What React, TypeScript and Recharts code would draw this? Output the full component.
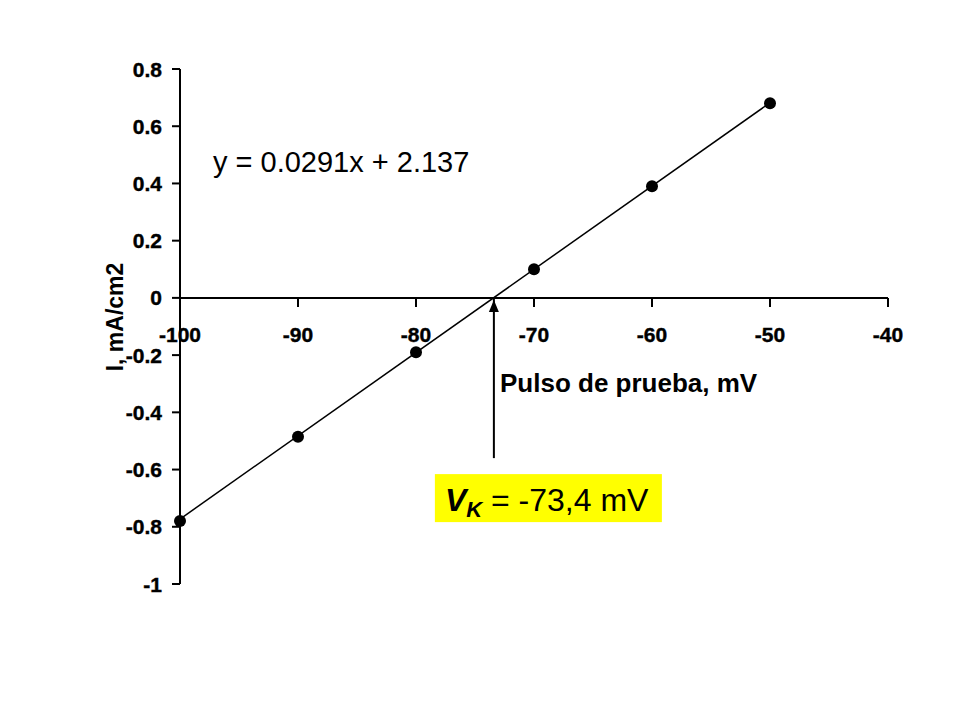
import React from "react";
import {
  ComposedChart,
  XAxis,
  YAxis,
  Scatter,
  ReferenceLine,
  ReferenceDot,
} from "recharts";

// ---- data ----
const pulseMv = [-100, -90, -80, -70, -60, -50];
const currentMa = [-0.78, -0.485, -0.19, 0.1, 0.39, 0.68];
const trendX = [-100, -50];
const trendY = [-0.773, 0.682];
const xTicks = [-100, -90, -80, -70, -60, -50, -40];
const yTicks = [-1, -0.8, -0.6, -0.4, -0.2, 0, 0.2, 0.4, 0.6, 0.8];
const yTickLabels = ["-1", "-0.8", "-0.6", "-0.4", "-0.2", "0", "0.2", "0.4", "0.6", "0.8"];
const vk = -73.4;
const arrowBottomY = -0.56;
const equationText = "y = 0.0291x + 2.137";
const xTitle = "Pulso de prueba, mV";
const yTitle = "I, mA/cm2";
const vkValueText = " = -73,4 mV";

const points = pulseMv.map((x, i) => ({ x, y: currentMa[i] }));
const trend = trendX.map((x, i) => ({ x, y: trendY[i] }));
const arrow = [
  { x: vk, y: arrowBottomY, tip: false },
  { x: vk, y: 0, tip: true },
];

const FONT = "'Liberation Sans', Arial, sans-serif";

const YTick = (props: any) => {
  const { x, y, payload } = props;
  const idx = yTicks.indexOf(payload.value);
  const label = idx >= 0 ? yTickLabels[idx] : String(payload.value);
  return (
    <text
      x={x}
      y={y}
      textAnchor="end"
      dominantBaseline="central"
      fontFamily={FONT}
      fontWeight="bold"
      fontSize={21}
      fill="#000"
      stroke="#000"
      strokeWidth={0.4}
    >
      {label}
    </text>
  );
};

const XTickMark = (value: number) => (props: any) => {
  const { cx, cy } = props;
  return (
    <g>
      <line x1={cx} y1={cy} x2={cx} y2={cy + 9} stroke="#000" strokeWidth={2} />
      <text
        x={cx}
        y={cy + 37}
        textAnchor="middle"
        dominantBaseline="central"
        fontFamily={FONT}
        fontWeight="bold"
        fontSize={21}
        fill="#000"
        stroke="#000"
        strokeWidth={0.4}
      >
        {String(value)}
      </text>
    </g>
  );
};

const Dot = (props: any) => {
  const { cx, cy } = props;
  return <circle cx={cx} cy={cy} r={6} fill="#000" />;
};

const NoShape = () => <g />;

const ArrowShape = (props: any) => {
  const { cx, cy, payload } = props;
  if (!payload || !payload.tip) return <g />;
  return (
    <path
      d={`M ${cx} ${cy + 2} L ${cx - 5} ${cy + 14} L ${cx + 5} ${cy + 14} Z`}
      fill="#000"
    />
  );
};

const VkBox = (props: any) => {
  const { cx, cy } = props;
  const left = cx - 59;
  const top = cy + 16;
  return (
    <g>
      <rect x={left} y={top} width={227} height={48} fill="#FFFF00" />
      <text x={left + 10} y={top + 37} fontFamily={FONT} fontSize={32} fill="#000">
        <tspan fontWeight="bold" fontStyle="italic">V</tspan>
        <tspan fontWeight="bold" fontStyle="italic" fontSize={22} dy={6}>K</tspan>
        <tspan dy={-6}>{vkValueText}</tspan>
      </text>
    </g>
  );
};

export default function App() {
  return (
    <div style={{ position: "absolute", left: 0, top: 0, width: 960, height: 720, background: "#fff" }}>
      <ComposedChart
        width={960}
        height={720}
        margin={{ top: 69, right: 72, bottom: 136, left: 100 }}
      >
        <XAxis type="number" dataKey="x" domain={[-100, -40]} ticks={xTicks} hide />
        <YAxis
          type="number"
          dataKey="y"
          domain={[-1, 0.8]}
          ticks={yTicks}
          width={80}
          axisLine={{ stroke: "#000", strokeWidth: 2 }}
          tickLine={{ stroke: "#000", strokeWidth: 2 }}
          tickSize={8}
          tickMargin={10}
          tick={<YTick />}
          interval={0}
        />
        <ReferenceLine y={0} stroke="#000" strokeWidth={2} />
        {xTicks.map((t) => (
          <ReferenceDot key={t} x={t} y={0} r={0} shape={XTickMark(t)} />
        ))}
        <Scatter
          data={trend}
          line={{ stroke: "#000", strokeWidth: 1.5 }}
          shape={NoShape}
          isAnimationActive={false}
        />
        <Scatter data={points} shape={Dot} fill="#000" isAnimationActive={false} />
        <Scatter
          data={arrow}
          line={{ stroke: "#000", strokeWidth: 2 }}
          shape={ArrowShape}
          isAnimationActive={false}
        />
        <ReferenceDot x={vk} y={arrowBottomY} r={0} shape={VkBox} />
      </ComposedChart>
      <svg
        width={960}
        height={720}
        style={{ position: "absolute", left: 0, top: 0, pointerEvents: "none" }}
      >
        <text x={213} y={172} fontFamily={FONT} fontSize={29} fill="#000">
          {equationText}
        </text>
        <text x={500} y={392} fontFamily={FONT} fontWeight="bold" fontSize={26} fill="#000">
          {xTitle}
        </text>
        <text
          x={115}
          y={317}
          transform="rotate(-90 115 317)"
          textAnchor="middle"
          dominantBaseline="central"
          fontFamily={FONT}
          fontWeight="bold"
          fontSize={23}
          fill="#000"
        >
          {yTitle}
        </text>
      </svg>
    </div>
  );
}
